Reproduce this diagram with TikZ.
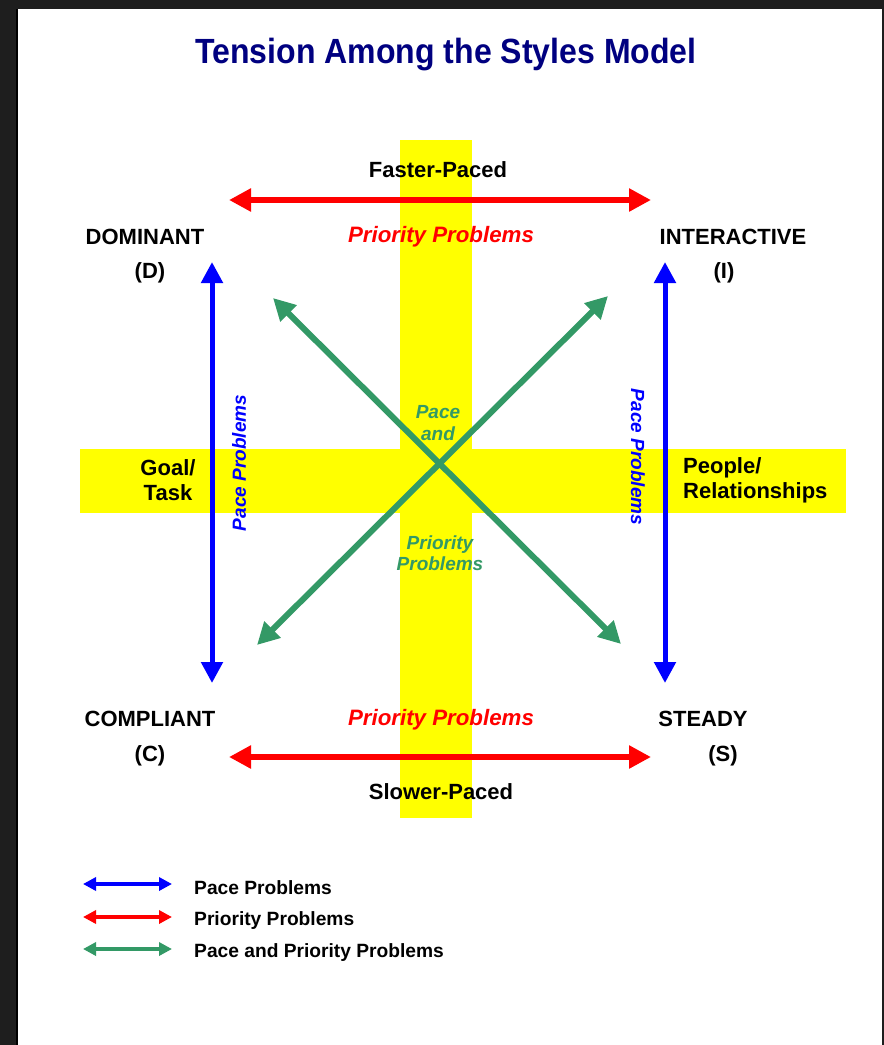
\documentclass[tikz,border=0pt]{standalone}
\usepackage{fontspec}
\setmainfont{Liberation Sans}
\usetikzlibrary{arrows.meta}
\definecolor{navyt}{RGB}{0,0,128}
\definecolor{grn}{RGB}{51,153,102}
\definecolor{ylw}{RGB}{255,255,0}
\definecolor{bgdark}{RGB}{30,30,30}
\tikzset{
  x=1pt,y=-1pt,
  lbl/.style={font=\fontsize{22}{25}\selectfont\bfseries, text=black, inner sep=0pt},
  rlbl/.style={font=\fontsize{22.3}{25}\selectfont\bfseries\itshape, text=red, inner sep=0pt},
  blbl/.style={font=\fontsize{19}{22}\selectfont\bfseries\itshape, text=blue, inner sep=0pt},
  glbl/.style={font=\fontsize{19}{21.5}\selectfont\bfseries\itshape, text=grn, inner sep=0pt, align=center},
  leglbl/.style={font=\fontsize{19.2}{22}\selectfont\bfseries, text=black, inner sep=0pt, anchor=west},
  bigred/.style={draw=red, line width=6pt, {Triangle[length=22pt,width=22pt]}-{Triangle[length=22pt,width=22pt]}},
  bigblue/.style={draw=blue, line width=5pt, {Triangle[length=21pt,width=21pt]}-{Triangle[length=21pt,width=21pt]}},
  biggreen/.style={draw=grn, line width=6pt, {Triangle[length=22pt,width=22pt]}-{Triangle[length=22pt,width=22pt]}},
  legarrow/.style={line width=4pt, {Triangle[length=13pt,width=13pt]}-{Triangle[length=13pt,width=13pt]}},
}
\begin{document}
\begin{tikzpicture}
\useasboundingbox (0,0) rectangle (884,1045);
% frame
\fill[bgdark] (0,0) rectangle (884,1045);
\fill[white] (17,9) rectangle (882,1045);
\draw[black, line width=1.5pt] (17,1045) -- (17,9);
% yellow cross
\fill[ylw] (400,140) rectangle (472,818);
\fill[ylw] (80,449) rectangle (846,513);
% title
\node[font=\fontsize{35}{38}\selectfont\bfseries, text=navyt, inner sep=0pt, xscale=0.915] (title) at (446,55) {Tension Among the Styles Model};
% top / bottom labels
\node[lbl] (fast) at (438,170) {Faster-Paced};
\node[rlbl] (prtop) at (441,237) {Priority Problems};
\node[rlbl] (prbot) at (441,720) {Priority Problems};
\node[lbl] (slow) at (441,792) {Slower-Paced};
% corner labels
\node[lbl] (dom) at (145,237) {DOMINANT};
\node[lbl] (domd) at (150,273) {(D)};
\node[lbl] (inter) at (733,237) {INTERACTIVE};
\node[lbl] (interi) at (724,273) {(I)};
\node[lbl] (comp) at (150,719) {COMPLIANT};
\node[lbl] (compc) at (150,756) {(C)};
\node[lbl] (steady) at (703,719) {STEADY};
\node[lbl] (steadys) at (723,756) {(S)};
% side labels
\node[lbl, align=center] (goal) at (168,480) {Goal/\\Task};
\node[lbl, align=left, anchor=west] (people) at (683,480) {People/\\Relationships};
% pace problems rotated
\node[blbl, rotate=90] (ppl) at (239,463) {Pace Problems};
\node[blbl, rotate=-90] (ppr) at (638,457) {Pace Problems};
% center green text
\node[glbl] (pa) at (438,423) {Pace\\and};
\node[glbl] (pp) at (440,553) {Priority\\Problems};
% arrows
\coordinate (rt1) at (229,200); \coordinate (rt2) at (651,200);
\coordinate (rb1) at (229,757); \coordinate (rb2) at (651,757);
\coordinate (bl1) at (212,262); \coordinate (bl2) at (212,683);
\coordinate (br1) at (665,262); \coordinate (br2) at (665,683);
\coordinate (g1a) at (273,298); \coordinate (g1b) at (621,644);
\coordinate (g2a) at (608,296); \coordinate (g2b) at (257,645);
\draw[bigred] (rt1) -- (rt2);
\draw[bigred] (rb1) -- (rb2);
\draw[bigblue] (bl1) -- (bl2);
\draw[bigblue] (br1) -- (br2);
\draw[biggreen] (g1a) -- (g1b);
\draw[biggreen] (g2a) -- (g2b);
% legend
\coordinate (l1a) at (83,884); \coordinate (l1b) at (172,884);
\coordinate (l2a) at (83,917); \coordinate (l2b) at (172,917);
\coordinate (l3a) at (83,949); \coordinate (l3b) at (172,949);
\draw[legarrow, draw=blue] (l1a) -- (l1b);
\draw[legarrow, draw=red] (l2a) -- (l2b);
\draw[legarrow, draw=grn] (l3a) -- (l3b);
\node[leglbl] (lt1) at (194,888) {Pace Problems};
\node[leglbl] (lt2) at (194,921) {Priority Problems};
\node[leglbl] (lt3) at (194,953) {Pace and Priority Problems};
\end{tikzpicture}
\end{document}
